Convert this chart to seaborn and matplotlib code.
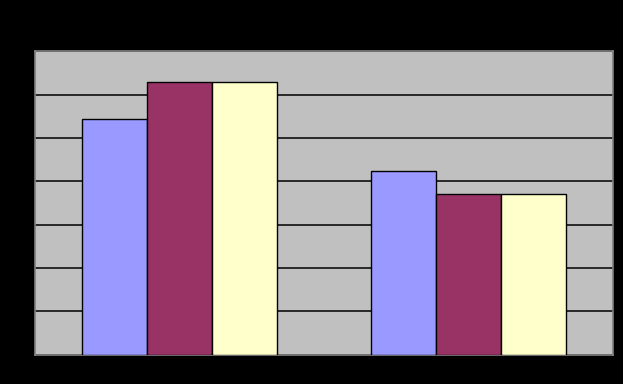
import matplotlib
matplotlib.use("Agg")
import matplotlib.pyplot as plt
import seaborn as sns
import pandas as pd

categories = ["A", "B"]
series = ["Series 1", "Series 2", "Series 3"]
values_s1 = [5.44, 4.23]
values_s2 = [6.30, 3.70]
values_s3 = [6.30, 3.70]
colors = ["#9999FF", "#993366", "#FFFFCC"]

rows = []
for name, vals in zip(series, [values_s1, values_s2, values_s3]):
    for c, v in zip(categories, vals):
        rows.append({"category": c, "series": name, "value": v})
df = pd.DataFrame(rows)

sns.set_style("white")
fig = plt.figure(figsize=(6.23, 3.84), dpi=100, facecolor="black")
ax = fig.add_axes([35 / 623, 29.3 / 384, 578 / 623, 303.4 / 384])
ax.set_facecolor("#C0C0C0")

sns.barplot(data=df, x="category", y="value", hue="series", palette=colors,
            saturation=1, width=0.672, edgecolor="black", linewidth=1,
            ax=ax, legend=False, zorder=3)

ax.set_ylim(0, 7)
ax.set_xlim(-0.5, 1.5)
ax.set_yticks(range(0, 8))
ax.yaxis.grid(True, color="black", linewidth=1.1, zorder=1)
ax.set_axisbelow(True)
ax.tick_params(left=False, bottom=False, labelleft=False, labelbottom=False)
ax.set_xlabel("")
ax.set_ylabel("")
for s in ax.spines.values():
    s.set_color("#808080")
    s.set_linewidth(1.2)

fig.savefig("out.png", dpi=100, facecolor="black")
